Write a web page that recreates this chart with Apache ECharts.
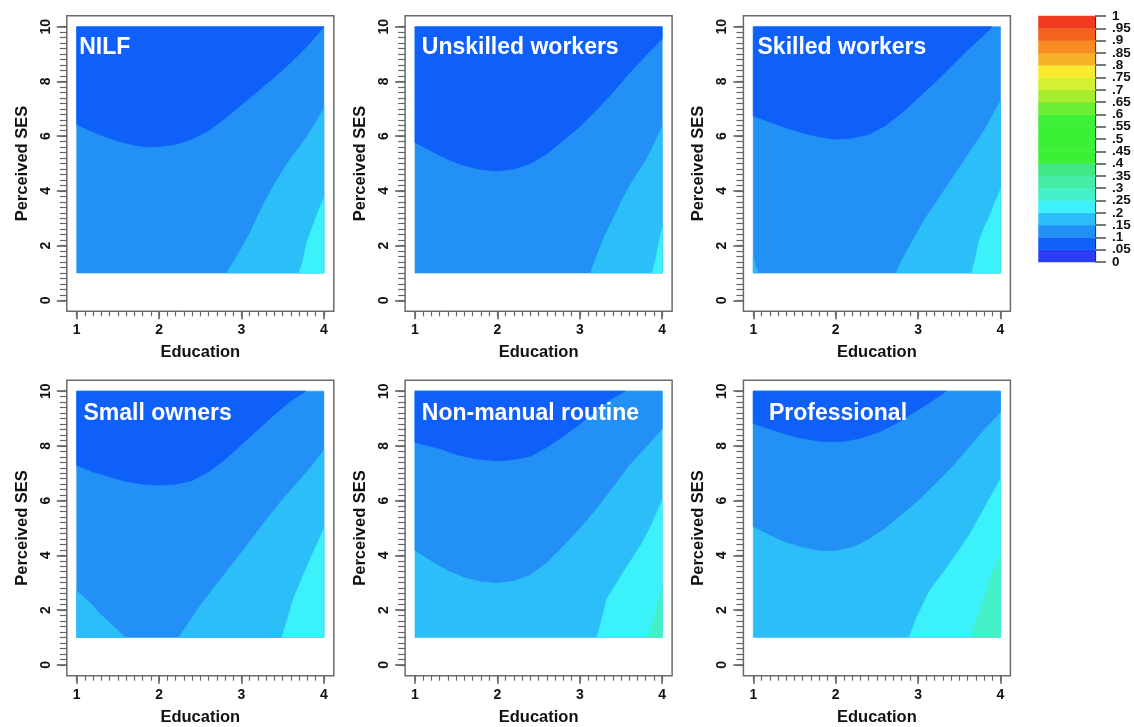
<!DOCTYPE html>
<html><head><meta charset="utf-8">
<script src="https://cdn.jsdelivr.net/npm/echarts@6/dist/echarts.min.js"></script>
<style>html,body{margin:0;padding:0;background:#fff}#c{width:1134px;height:727px}</style>
</head><body><div id="c"></div>
<script>
// ---------- data ----------
const panelNames = ['NILF', 'Unskilled workers', 'Skilled workers', 'Small owners', 'Non-manual routine', 'Professional'];
const xTickLabels = [1, 2, 3, 4];
const yTickLabels = [0, 2, 4, 6, 8, 10];
const levelBreaks = [0, .05, .1, .15, .2, .25, .3, .35, .4, .45, .5, .55, .6, .65, .7, .75, .8, .85, .9, .95, 1];
const levelColors = ['#2a3cf4', '#0e60f8', '#2290f4', '#2cbef8', '#3cf2fa', '#44f0c8', '#44eca8', '#42e884',
  '#3cf036', '#3cf036', '#3cf036', '#3cf036', '#6cee32', '#a8ec30', '#d4f030', '#f8ec30', '#f8b22a', '#f88c22', '#f4621c', '#f03a1e'];
const domain = [[1, 1], [4, 1], [4, 10], [1, 10]];
const topLeft = [[1, 10]];
const topCorners = [[4, 10], [1, 10]];
const bottomRight = [[4, 1]];
const bottomLeft = [[1, 1]];

// level boundaries (Education, Perceived SES)
const nilfDark = [[1, 6.44], [1.15, 6.22], [1.3, 6.03], [1.5, 5.82], [1.7, 5.67], [1.85, 5.61], [2.0, 5.62], [2.2, 5.7], [2.4, 5.9], [2.6, 6.2], [2.8, 6.65], [3.0, 7.15], [3.2, 7.65], [3.4, 8.15], [3.6, 8.7], [3.8, 9.3], [4, 10]];
const nilfLight = [[2.82, 1], [2.9, 1.4], [3.0, 1.9], [3.1, 2.45], [3.2, 3.1], [3.3, 3.7], [3.4, 4.25], [3.5, 4.75], [3.6, 5.2], [3.7, 5.6], [3.8, 6.0], [3.9, 6.5], [4, 7.02]];
const nilfCyan = [[3.70, 1], [3.75, 1.5], [3.79, 2.1], [3.85, 2.6], [3.9, 3.0], [3.95, 3.4], [4, 3.73]];

const unskDark = [[1, 5.77], [1.2, 5.45], [1.4, 5.15], [1.6, 4.92], [1.8, 4.78], [2.0, 4.73], [2.2, 4.8], [2.4, 5.0], [2.6, 5.35], [2.8, 5.85], [3.0, 6.35], [3.2, 6.95], [3.4, 7.6], [3.6, 8.3], [3.8, 8.95], [4, 9.55]];
const unskLight = [[3.13, 1], [3.2, 1.6], [3.3, 2.35], [3.4, 2.95], [3.5, 3.6], [3.6, 4.15], [3.7, 4.65], [3.8, 5.1], [3.9, 5.7], [4, 6.34]];
const unskCyan = [[3.88, 1], [3.92, 1.5], [3.96, 2.1], [4, 2.66]];

const skDark = [[1, 6.74], [1.2, 6.52], [1.4, 6.3], [1.6, 6.12], [1.8, 5.97], [2.0, 5.89], [2.2, 5.93], [2.4, 6.06], [2.6, 6.38], [2.8, 6.85], [3.0, 7.4], [3.2, 7.95], [3.4, 8.55], [3.6, 9.15], [3.8, 9.7], [3.9, 10]];
const skLight = [[2.73, 1], [2.8, 1.45], [2.9, 2.0], [3.0, 2.55], [3.1, 3.05], [3.2, 3.5], [3.3, 3.95], [3.4, 4.4], [3.5, 4.85], [3.6, 5.3], [3.7, 5.75], [3.8, 6.2], [3.9, 6.75], [4, 7.29]];
const skCyan = [[3.65, 1], [3.7, 1.6], [3.74, 2.17], [3.8, 2.65], [3.86, 3.02], [3.93, 3.55], [4, 4.06]];
const skLightLeft = [[1, 1.59], [1.03, 1.25], [1.06, 1]];

const smDark = [[1, 7.29], [1.2, 7.05], [1.4, 6.87], [1.6, 6.7], [1.8, 6.6], [2.0, 6.56], [2.2, 6.6], [2.4, 6.73], [2.6, 7.05], [2.8, 7.5], [3.0, 8.05], [3.2, 8.6], [3.4, 9.15], [3.6, 9.65], [3.78, 10]];
const smLight = [[2.24, 1], [2.35, 1.5], [2.5, 2.17], [2.7, 2.95], [2.91, 3.76], [3.1, 4.5], [3.31, 5.34], [3.5, 6.05], [3.72, 6.8], [3.85, 7.25], [4, 7.84]];
const smLightLeft = [[1, 2.7], [1.15, 2.3], [1.28, 1.87], [1.45, 1.4], [1.59, 1]];
const smCyan = [[3.49, 1], [3.55, 1.6], [3.63, 2.41], [3.72, 3.05], [3.8, 3.63], [3.9, 4.3], [4, 4.98]];

const nmMid = [[1, 4.18], [1.2, 3.8], [1.4, 3.45], [1.6, 3.2], [1.8, 3.05], [2.0, 3.0], [2.2, 3.08], [2.4, 3.3], [2.6, 3.75], [2.8, 4.35], [3.0, 5.0], [3.2, 5.7], [3.4, 6.5], [3.6, 7.3], [3.8, 7.95], [4, 8.63]];
const nmDark = [[1, 8.12], [1.3, 7.9], [1.5, 7.68], [1.71, 7.54], [2.0, 7.45], [2.2, 7.5], [2.4, 7.62], [2.6, 7.95], [2.8, 8.35], [3.0, 8.8], [3.2, 9.3], [3.4, 9.75], [3.55, 10]];
const nmCyan = [[3.21, 1], [3.27, 1.7], [3.33, 2.41], [3.43, 2.9], [3.53, 3.39], [3.64, 3.9], [3.74, 4.37], [3.87, 5.1], [4, 6.01]];
const nmAqua = [[3.82, 1], [3.88, 1.5], [3.94, 2.2], [4, 2.84]];

const prMid = [[1, 5.04], [1.2, 4.75], [1.4, 4.48], [1.6, 4.3], [1.81, 4.18], [2.0, 4.18], [2.2, 4.3], [2.4, 4.6], [2.6, 5.0], [2.8, 5.5], [3.0, 6.0], [3.2, 6.6], [3.4, 7.2], [3.6, 7.9], [3.8, 8.6], [4, 9.24]];
const prDark = [[1, 8.82], [1.3, 8.52], [1.55, 8.3], [1.85, 8.15], [2.1, 8.17], [2.3, 8.28], [2.53, 8.51], [2.75, 8.85], [2.93, 9.18], [3.15, 9.6], [3.34, 10]];
const prCyan = [[2.89, 1], [2.98, 1.7], [3.13, 2.66], [3.25, 3.15], [3.34, 3.51], [3.5, 4.2], [3.62, 4.73], [3.8, 5.7], [4, 6.8]];
const prAqua = [[3.64, 1], [3.74, 1.93], [3.8, 2.45], [3.86, 3.02], [3.93, 3.55], [4, 4.06]];

// regions per panel: [level index, boundary, closing corners]
const panelRegions = [
  [[2, domain, []], [1, nilfDark, topLeft], [3, nilfLight, bottomRight], [4, nilfCyan, bottomRight]],
  [[2, domain, []], [1, unskDark, topCorners], [3, unskLight, bottomRight], [4, unskCyan, bottomRight]],
  [[2, domain, []], [1, skDark, topLeft], [3, skLight, bottomRight], [4, skCyan, bottomRight], [3, skLightLeft, bottomLeft]],
  [[2, domain, []], [1, smDark, topLeft], [3, smLight, bottomRight], [3, smLightLeft, bottomLeft], [4, smCyan, bottomRight]],
  [[3, domain, []], [2, nmMid, topCorners], [1, nmDark, topLeft], [4, nmCyan, bottomRight], [5, nmAqua, bottomRight]],
  [[3, domain, []], [2, prMid, topCorners], [1, prDark, topLeft], [4, prCyan, bottomRight], [5, prAqua, bottomRight]]
];

// ---------- layout ----------
const colLeft = [66.8, 405.1, 743.4];
const rowTop = [15.8, 380.2];
const gridW = 267, gridH = 295.5;
const titleOffsetX = [2.5, 6.8, 4.2, 6.8, 6.8, 15.7];
const titleY = [47.5, 413.5];
const FONT = '"Liberation Sans", Arial, Helvetica, sans-serif';

const xMinor = []; for (let i = 10; i <= 40; i++) xMinor.push(i / 10);
const yMinor = []; for (let i = 0; i <= 50; i++) yMinor.push(i / 5);

const grids = [], xAxes = [], yAxes = [], series = [], graphics = [];
panelNames.forEach((name, p) => {
  const col = p % 3, row = Math.floor(p / 3);
  grids.push({left: colLeft[col], top: rowTop[row], width: gridW, height: gridH, show: true,
    borderColor: '#6a6a6a', borderWidth: 1.5, backgroundColor: 'transparent'});
  const axBase = {gridIndex: p, type: 'value', splitLine: {show: false}, axisLine: {show: false, onZero: false}};
  xAxes.push(Object.assign({}, axBase, {min: 0.88, max: 4.12, position: 'bottom',
    axisTick: {show: true, customValues: xTickLabels, length: 8, lineStyle: {color: '#555', width: 1.5}},
    axisLabel: {customValues: xTickLabels, fontFamily: FONT, fontWeight: 'bold', fontSize: 14, color: '#111', margin: 12},
    name: 'Education', nameLocation: 'middle', nameGap: 33,
    nameTextStyle: {fontFamily: FONT, fontWeight: 'bold', fontSize: 16.5, color: '#111'}}));
  xAxes.push(Object.assign({}, axBase, {min: 0.88, max: 4.12, position: 'bottom',
    axisTick: {show: true, customValues: xMinor, length: 5, lineStyle: {color: '#666', width: 1.2}},
    axisLabel: {show: false}}));
  yAxes.push(Object.assign({}, axBase, {min: -0.4, max: 10.4, position: 'left',
    axisTick: {show: true, customValues: yTickLabels, length: 10, lineStyle: {color: '#555', width: 1.5}},
    axisLabel: {customValues: yTickLabels, rotate: 90, fontFamily: FONT, fontWeight: 'bold', fontSize: 14, color: '#111', margin: 14},
    name: 'Perceived SES', nameLocation: 'middle', nameGap: 36,
    nameTextStyle: {fontFamily: FONT, fontWeight: 'bold', fontSize: 16.5, color: '#111'}}));
  yAxes.push(Object.assign({}, axBase, {min: -0.4, max: 10.4, position: 'left',
    axisTick: {show: true, customValues: yMinor, length: 7, lineStyle: {color: '#666', width: 1.2}},
    axisLabel: {show: false}}));
  const regions = panelRegions[p].map(r => ({lvl: r[0], pts: r[1].concat(r[2])}));
  series.push({
    type: 'custom', xAxisIndex: 2 * p, yAxisIndex: 2 * p, silent: true, animation: false,
    data: regions.map(r => [r.pts[0][0], r.pts[0][1]]),
    encode: {x: 0, y: 1},
    renderItem: (params, api) => {
      const r = regions[params.dataIndex];
      const c = levelColors[r.lvl];
      return {type: 'polygon', shape: {points: r.pts.map(pt => api.coord(pt))},
        style: {fill: c, stroke: c, lineWidth: 0.6}};
    }
  });
  graphics.push({type: 'text', silent: true,
    x: colLeft[col] + 9.9 + titleOffsetX[p], y: titleY[row],
    style: {text: name, fill: '#ffffff', font: 'bold 23px ' + FONT, textVerticalAlign: 'middle', textAlign: 'left'}, z: 100});
});

// colour key
const cb = panelNames.length;
const keyLabelsA = levelBreaks.filter((v, i) => i % 2 === 0);
const keyLabelsB = levelBreaks.filter((v, i) => i % 2 === 1);
const keyFmt = v => String(Math.round(v * 100) / 100).replace(/^0\./, '.');
const keyLabelStyle = {margin: 17, fontFamily: '"Liberation Sans Narrow", ' + FONT, fontWeight: 'bold', fontSize: 13.5,
  color: '#111', padding: [3, 0, 0, 0], formatter: keyFmt};
grids.push({left: 1038.5, top: 16, width: 56.5, height: 246, show: false});
xAxes.push({gridIndex: cb, type: 'value', min: 0, max: 1, show: false});
yAxes.push({gridIndex: cb, type: 'value', min: 0, max: 1, position: 'right',
  splitLine: {show: false},
  axisLine: {show: true, onZero: false, lineStyle: {color: '#222', width: 1.2}},
  axisTick: {show: true, customValues: levelBreaks, length: 11, lineStyle: {color: '#777', width: 2}},
  axisLabel: Object.assign({customValues: keyLabelsA}, keyLabelStyle)});
yAxes.push({gridIndex: cb, type: 'value', min: 0, max: 1, position: 'right',
  splitLine: {show: false}, axisLine: {show: false, onZero: false}, axisTick: {show: false},
  axisLabel: Object.assign({customValues: keyLabelsB}, keyLabelStyle)});
const levelData = levelColors.map((c, i) => [0, levelBreaks[i], levelBreaks[i + 1], i]);
series.push({type: 'custom', xAxisIndex: 2 * cb, yAxisIndex: 2 * cb, silent: true, animation: false, z: 1,
  data: levelData, encode: {x: 0, y: [1, 2]},
  renderItem: (params, api) => {
    const lo = api.coord([0, api.value(1)]);
    const hi = api.coord([1, api.value(2)]);
    const c = levelColors[api.value(3)];
    return {type: 'rect', shape: {x: lo[0], y: hi[1], width: hi[0] - lo[0], height: lo[1] - hi[1]},
      style: {fill: c, stroke: c, lineWidth: 0.5}};
  }});

const chart = echarts.init(document.getElementById('c'), null, {renderer: 'canvas'});
chart.setOption({
  backgroundColor: '#ffffff',
  animation: false,
  grid: grids, xAxis: xAxes, yAxis: yAxes, series: series, graphic: graphics
});
</script></body></html>
